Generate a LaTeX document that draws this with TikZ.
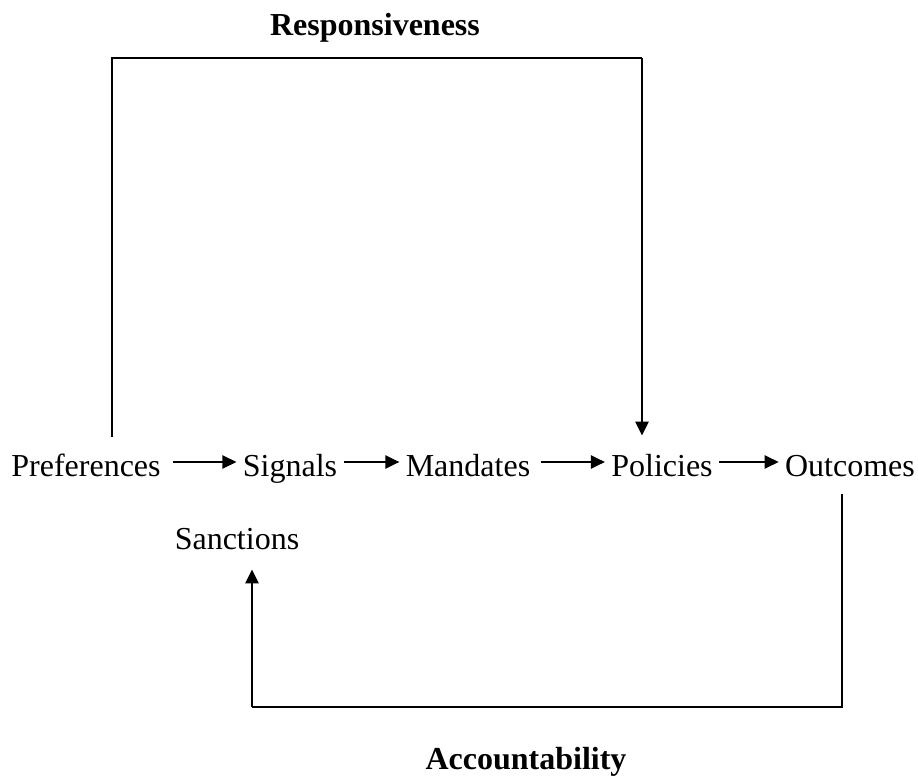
\documentclass[tikz,border=0pt]{standalone}
\usepackage{fontspec}
\setmainfont{Liberation Serif}
\usetikzlibrary{arrows.meta,positioning}

\begin{document}
\begin{tikzpicture}[
				x=0.5pt,y=-0.5pt,
				term/.style={inner sep=3pt,text height=14pt,text depth=0pt,anchor=base,font=\fontsize{16}{19}\selectfont},
				title/.style={inner sep=0pt,anchor=base,font=\fontsize{16}{19}\selectfont\bfseries},
				link/.style={-{Triangle[length=7pt,width=6.5pt]},line width=1.1pt},
				loop/.style={line width=1.2pt}
				]
				\useasboundingbox (0,0) rectangle (918,776);
				
				% Catena principale
				\node[term] (pref) at (86,476) {Preferences};
				\node[term] (sig) at (290,476) {Signals};
				\node[term] (mand) at (468,476) {Mandates};
				\node[term] (pol) at (662,476) {Policies};
				\node[term] (out) at (850,476) {Outcomes};
				\node[term] (sanc) at (237,549) {Sanctions};
				
				\draw[link,shorten <=3pt] (pref) -- (sig);
				\draw[link] (sig) -- (mand);
				\draw[link,shorten <=2pt] (mand) -- (pol);
				\draw[link] (pol) -- (out);
				
				% Responsiveness
				\node[title] (resp) at (375,35) {Responsiveness};
				\coordinate (respcorner) at (642,58);
				\draw[loop] ([xshift=13pt,yshift=2.5pt]pref.north) |- (respcorner);
				\draw[loop,-{Triangle[length=7pt,width=6.5pt]}] (respcorner) -- ([xshift=-10pt,yshift=3pt]pol.north);
				
				% Accountability
				\node[title] (acc) at (526,769) {Accountability};
				\coordinate (acccorner) at (252,707);
				\draw[loop] ([xshift=-4pt,yshift=-6pt]out.south) |- (acccorner);
				\draw[loop,-{Triangle[length=7pt,width=6.5pt]}] (acccorner) -- ([xshift=7.5pt,yshift=-7pt]sanc.south);
				
			\end{tikzpicture}
\end{document}
